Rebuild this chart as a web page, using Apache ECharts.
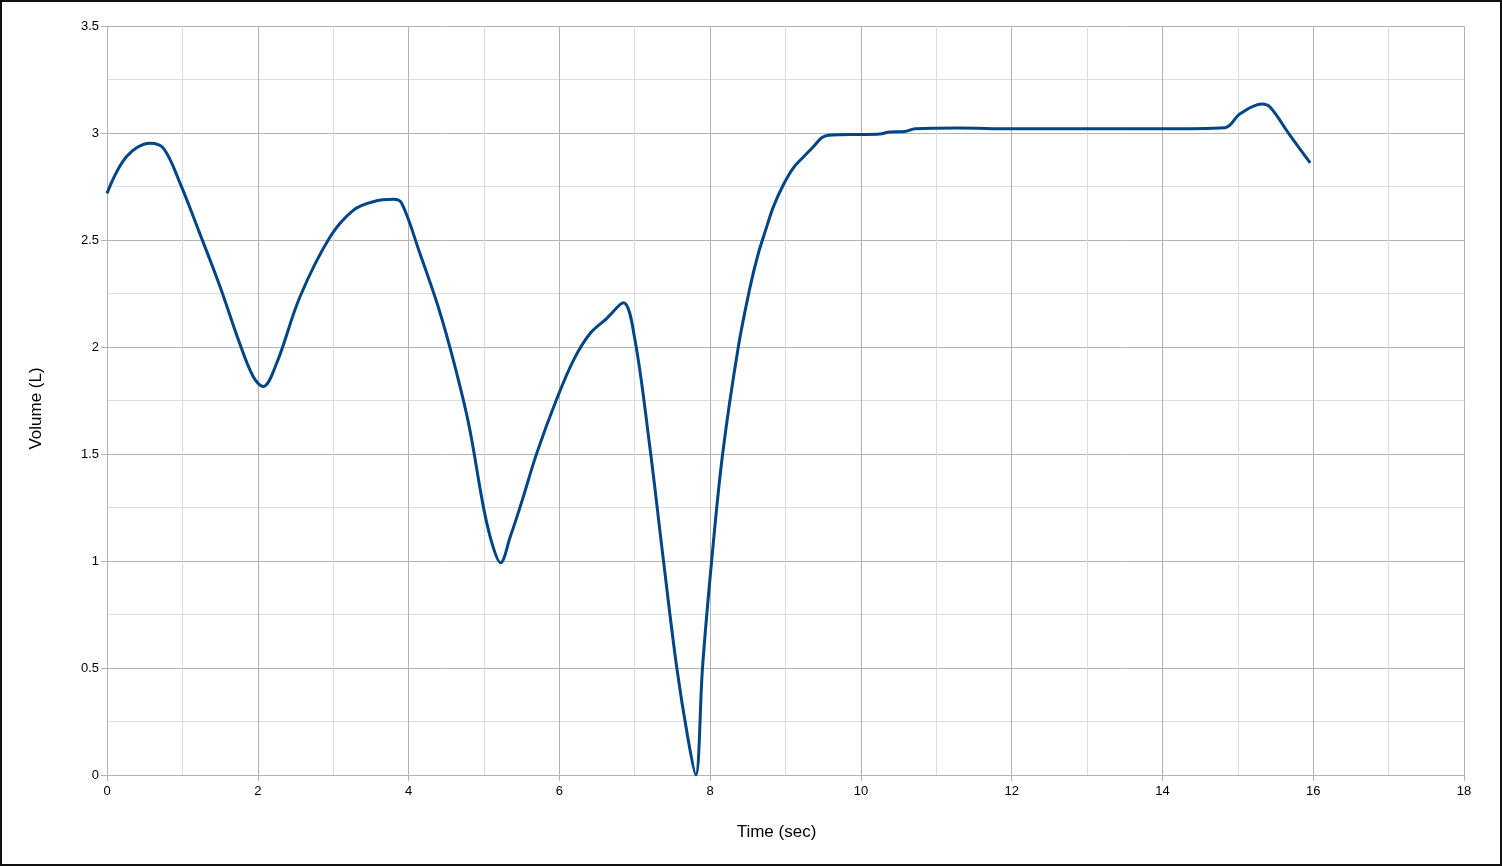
<!DOCTYPE html>
<html>
<head>
<meta charset="utf-8">
<script src="https://cdn.jsdelivr.net/npm/echarts@6/dist/echarts.min.js"></script>
<style>
html,body{margin:0;padding:0;background:#fff;}
#c{position:absolute;left:0;top:0;width:1502px;height:866px;}
#frame{position:absolute;left:0;top:0;width:1502px;height:866px;box-sizing:border-box;border:2px solid #111;pointer-events:none;}
</style>
</head>
<body>
<div id="c"></div>
<div id="frame"></div>
<script>
var times = [0, 0.26, 0.57, 0.75, 0.97, 1.23, 1.50, 1.76, 1.94, 2.07, 2.25, 2.56, 2.96, 3.27, 3.53, 3.80, 3.91, 4.15, 4.40, 4.60, 4.80, 5.0, 5.12, 5.22, 5.35, 5.50, 5.70, 5.96, 6.19, 6.41, 6.63, 6.85, 7.0, 7.20, 7.38, 7.556, 7.71, 7.81, 7.90, 8.02, 8.166, 8.374, 8.53, 8.64, 8.73, 8.84, 8.97, 9.10, 9.24, 9.37, 9.48, 9.57, 9.72, 9.99, 10.25, 10.38, 10.58, 10.72, 11.30, 12.0, 13.0, 14.0, 14.83, 15.03, 15.32, 15.43, 15.69, 15.96];
var volumes = [2.718, 2.89, 2.952, 2.928, 2.765, 2.531, 2.282, 2.017, 1.861, 1.815, 1.924, 2.235, 2.515, 2.64, 2.679, 2.69, 2.671, 2.438, 2.18, 1.93, 1.636, 1.24, 1.067, 0.992, 1.114, 1.275, 1.503, 1.752, 1.94, 2.064, 2.134, 2.207, 2.04, 1.534, 1.005, 0.506, 0.163, 0.0, 0.506, 1.0, 1.50, 2.0, 2.28, 2.438, 2.539, 2.656, 2.757, 2.835, 2.889, 2.936, 2.978, 2.99, 2.992, 2.993, 2.995, 3.005, 3.007, 3.02, 3.023, 3.02, 3.02, 3.02, 3.025, 3.09, 3.135, 3.12, 2.99, 2.86];
var xAxisName = 'Time (sec)';
var yAxisName = 'Volume (L)';

var pts = times.map(function(t, i){ return [t, volumes[i]]; });
var chart = echarts.init(document.getElementById('c'), null, {renderer:'canvas'});
var font = 'Liberation Sans, Arial, sans-serif';
chart.setOption({
  animation:false,
  grid:{left:107, top:26, right:38, bottom:91, containLabel:false},
  xAxis:{
    type:'value', min:0, max:18, interval:2,
    name:xAxisName, nameLocation:'middle', nameGap:49,
    nameTextStyle:{fontFamily:font, fontSize:17, color:'#000', padding:[0,18,0,0]},
    axisLine:{show:true, lineStyle:{color:'#b3b3b3', width:1}},
    axisTick:{show:true, length:6, lineStyle:{color:'#b3b3b3'}},
    axisLabel:{fontFamily:font, fontSize:13, color:'#000', margin:10},
    splitLine:{show:true, lineStyle:{color:'#b3b3b3', width:1}},
    minorTick:{show:false, splitNumber:2},
    minorSplitLine:{show:true, lineStyle:{color:'#dddddd', width:1}}
  },
  yAxis:{
    type:'value', min:0, max:3.5, interval:0.5,
    name:yAxisName, nameLocation:'middle', nameGap:62, nameRotate:90,
    nameTextStyle:{fontFamily:font, fontSize:17, color:'#000', padding:[0,16,0,0]},
    axisLine:{show:true, lineStyle:{color:'#b3b3b3', width:1}},
    axisTick:{show:true, length:6, lineStyle:{color:'#b3b3b3'}},
    axisLabel:{fontFamily:font, fontSize:13, color:'#000', margin:8},
    splitLine:{show:true, lineStyle:{color:'#b3b3b3', width:1}},
    minorTick:{show:false, splitNumber:2},
    minorSplitLine:{show:true, lineStyle:{color:'#dddddd', width:1}}
  },
  series:[{
    type:'line', data:pts, smooth:0.35, showSymbol:false,
    lineStyle:{color:'#004586', width:3}
  }]
});
</script>
</body>
</html>
